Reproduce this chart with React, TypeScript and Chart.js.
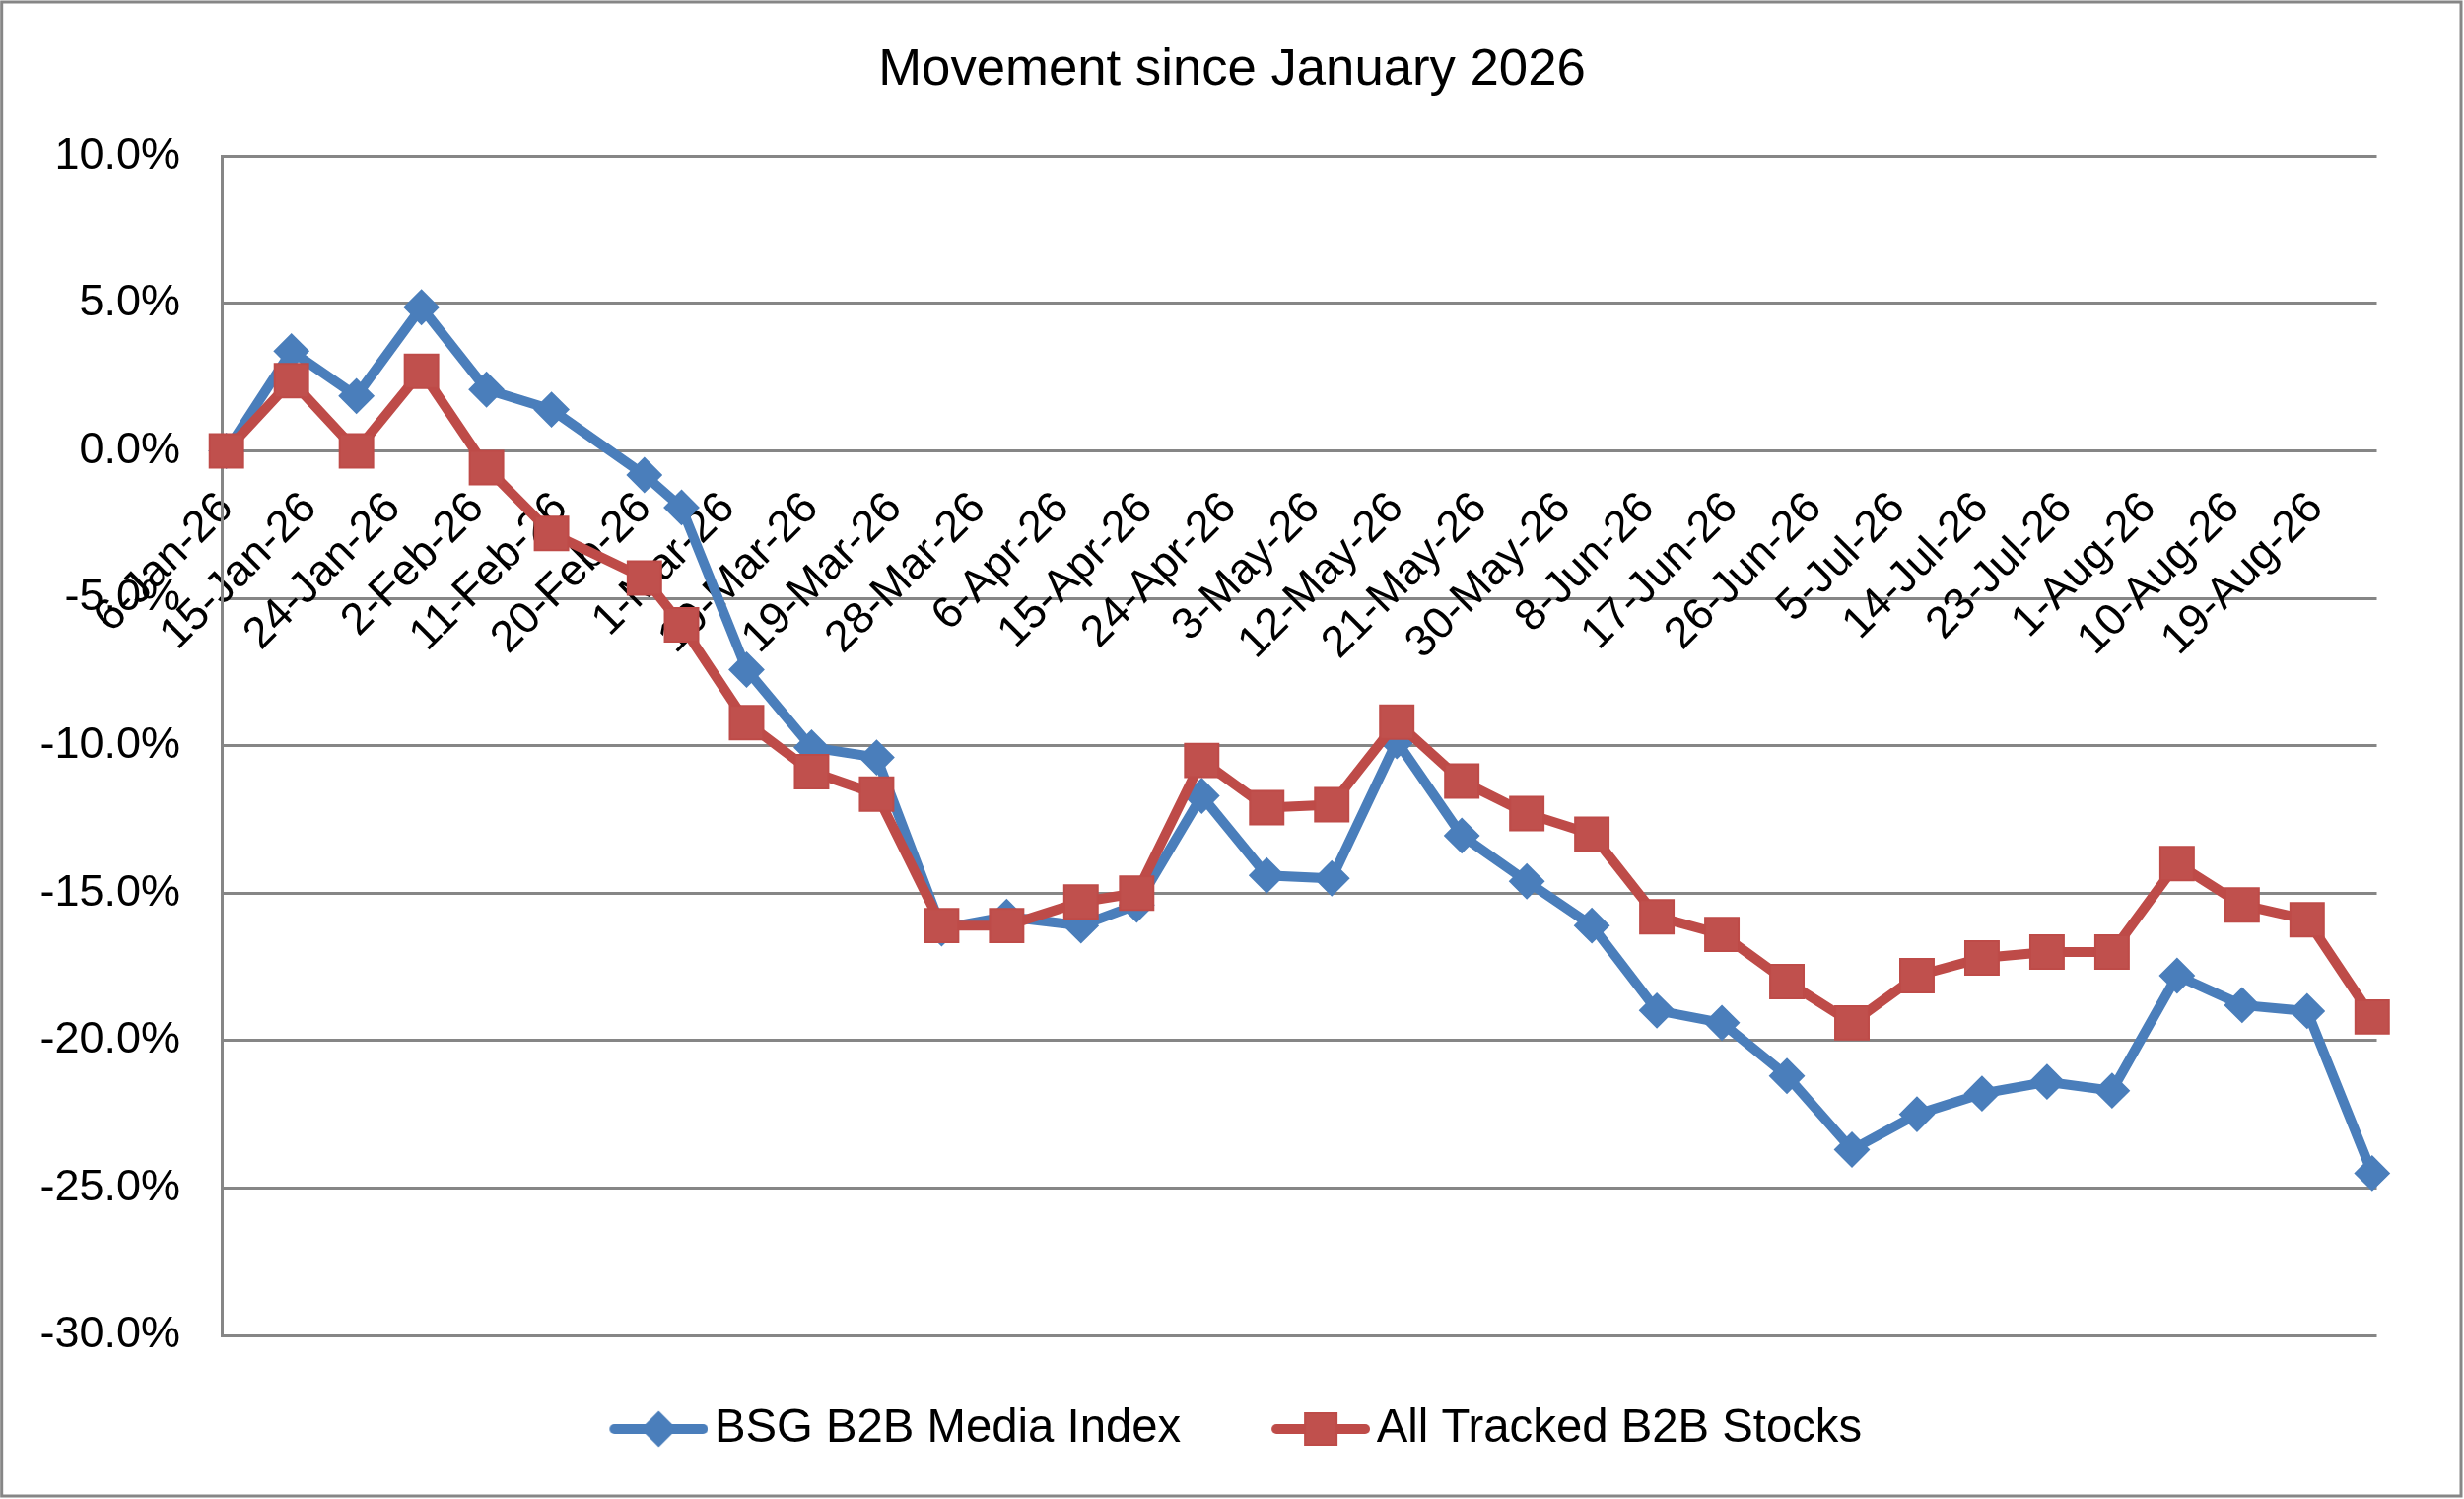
import React, { useEffect, useRef } from 'react';
import { Chart, registerables } from 'chart.js';

Chart.register(...registerables);

const chartTitle = 'Movement since January 2026';
const seriesNames = ['BSG B2B Media Index', 'All Tracked B2B Stocks'];

const pointDates = [
  '6-Jan-26', '13-Jan-26', '20-Jan-26', '27-Jan-26', '3-Feb-26', '10-Feb-26', '20-Feb-26', '24-Feb-26',
  '3-Mar-26', '10-Mar-26', '17-Mar-26', '24-Mar-26', '31-Mar-26', '8-Apr-26', '14-Apr-26', '21-Apr-26',
  '28-Apr-26', '5-May-26', '12-May-26', '19-May-26', '26-May-26', '2-Jun-26', '9-Jun-26', '16-Jun-26',
  '23-Jun-26', '30-Jun-26', '7-Jul-26', '14-Jul-26', '21-Jul-26', '28-Jul-26', '4-Aug-26', '11-Aug-26',
  '18-Aug-26', '25-Aug-26',
];

const bsgIndex = [
  0, 3.38, 1.86, 4.87, 2.08, 1.4, -0.82, -1.92,
  -7.42, -10.06, -10.4, -16.2, -15.8, -16.1, -15.4, -11.7,
  -14.4, -14.5, -9.85, -13.05, -14.6, -16.1, -18.98, -19.4,
  -21.2, -23.7, -22.5, -21.8, -21.4, -21.7, -17.8, -18.8,
  -19.0, -24.5,
];

const allTracked = [
  0, 2.38, 0, 2.7, -0.57, -2.8, -4.31, -5.9,
  -9.22, -10.88, -11.64, -16.1, -16.1, -15.3, -15.0, -10.5,
  -12.1, -12.0, -9.2, -11.2, -12.3, -13.0, -15.8, -16.4,
  -18.0, -19.4, -17.8, -17.2, -17.0, -17.0, -14.0, -15.4,
  -15.9, -19.2,
];

const xTickLabels = [
  '6-Jan-26', '15-Jan-26', '24-Jan-26', '2-Feb-26', '11-Feb-26', '20-Feb-26', '1-Mar-26', '10-Mar-26',
  '19-Mar-26', '28-Mar-26', '6-Apr-26', '15-Apr-26', '24-Apr-26', '3-May-26', '12-May-26', '21-May-26',
  '30-May-26', '8-Jun-26', '17-Jun-26', '26-Jun-26', '5-Jul-26', '14-Jul-26', '23-Jul-26', '1-Aug-26',
  '10-Aug-26', '19-Aug-26',
];

const axisStart = '6-Jan-26';
const axisEnd = '25-Aug-26';
const yMin = -30;
const yMax = 10;
const yStep = 5;

const MONTHS: Record<string, number> = {
  Jan: 0, Feb: 1, Mar: 2, Apr: 3, May: 4, Jun: 5, Jul: 6, Aug: 7, Sep: 8, Oct: 9, Nov: 10, Dec: 11,
};

function parseDay(s: string): number {
  const [d, m, y] = s.split('-');
  return Date.UTC(2000 + Number(y), MONTHS[m], Number(d)) / 86400000;
}

function dayOffset(s: string): number {
  return Math.round(parseDay(s) - parseDay(axisStart));
}

// colours / fonts
const BLUE = '#4A7EBB';
const RED = '#BE4B48';
const RED_FILL = '#C0504D';
const GRID = '#868686';
const FONT = "'Liberation Sans', Arial, Helvetica, sans-serif";

// layout (canvas pixels)
const W_CANVAS = 2500;
const H_CANVAS = 1521;
const PAD_LEFT = 30;
const PAD_RIGHT = 88.5;
const PLOT_LEFT = 225;
const PLOT_TOP = 158.3;
const PLOT_BOTTOM = 1355;
const TITLE_SIZE = 52.7;
const TITLE_CENTER = 71;
const TICK_SIZE = 45;
const LEG_SIZE = 47.3;
const LEG_CENTER = 1450;
const LEG_START = 618.5;
const LEG_LINE = 100;
const LEG_GAP = 6.5;
const LEG_ITEM_GAP = 92;

function makeLegendImage(width: number, lineColor: string, fill: string, kind: 'diamond' | 'square'): HTMLCanvasElement {
  const c = document.createElement('canvas');
  const w = Math.round(width);
  c.width = w;
  c.height = 40;
  const g = c.getContext('2d')!;
  g.strokeStyle = lineColor;
  g.lineWidth = 10;
  g.lineCap = 'round';
  g.beginPath();
  g.moveTo(w - LEG_LINE + 5, 20);
  g.lineTo(w - 5, 20);
  g.stroke();
  g.fillStyle = fill;
  g.lineWidth = 2;
  const cx = w - LEG_LINE / 2;
  const cy = 20;
  g.beginPath();
  if (kind === 'diamond') {
    const r = 17;
    g.moveTo(cx, cy - r);
    g.lineTo(cx + r, cy);
    g.lineTo(cx, cy + r);
    g.lineTo(cx - r, cy);
    g.closePath();
  } else {
    const h = 16;
    g.rect(cx - h, cy - h, 2 * h, 2 * h);
  }
  g.fill();
  g.stroke();
  return c;
}

// white background, centred chart title and the outer frame
const framePlugin = {
  id: 'frame',
  beforeDraw(chart: any) {
    const { ctx, width, height } = chart;
    ctx.save();
    ctx.fillStyle = '#ffffff';
    ctx.fillRect(0, 0, width, height);
    ctx.restore();
  },
  afterDraw(chart: any) {
    const { ctx, width } = chart;
    ctx.save();
    ctx.fillStyle = '#000000';
    ctx.font = `${TITLE_SIZE}px ${FONT}`;
    ctx.textAlign = 'center';
    ctx.textBaseline = 'middle';
    ctx.fillText(chartTitle, width / 2, TITLE_CENTER);
    ctx.strokeStyle = GRID;
    ctx.lineWidth = 3;
    ctx.strokeRect(1.7, 2, 2495.3, 1516);
    ctx.restore();
  },
};

export default function App() {
  const ref = useRef<HTMLCanvasElement | null>(null);

  useEffect(() => {
    document.body.style.margin = '0';
    if (!ref.current) return;
    Chart.defaults.font.family = FONT;
    Chart.defaults.color = '#000000';

    // legend geometry: line+marker image sits right before the text
    const meas = document.createElement('canvas').getContext('2d')!;
    meas.font = `${LEG_SIZE}px ${FONT}`;
    const totalText = seriesNames.reduce((s, n) => s + meas.measureText(n).width, 0);
    const hf = LEG_SIZE / 2;
    const legCenterX = (PAD_LEFT + (W_CANVAS - PAD_RIGHT)) / 2;
    const legPad = Math.max(2, 2 * (legCenterX - LEG_LINE - LEG_GAP - LEG_START) - totalText);
    const lead = LEG_ITEM_GAP - legPad;
    const boxW = lead + LEG_LINE + LEG_GAP - hf;
    const imgW = boxW + 2 * hf - 2 * LEG_GAP;
    const titleH = LEG_CENTER - PLOT_BOTTOM - legPad - hf;
    const legHeight = titleH + LEG_SIZE + legPad + 10;
    const padBottom = H_CANVAS - PLOT_BOTTOM - legHeight;

    const legendImages = [
      makeLegendImage(imgW, BLUE, BLUE, 'diamond'),
      makeLegendImage(imgW, RED, RED_FILL, 'square'),
    ];

    const xs = pointDates.map(dayOffset);
    const tickValues = xTickLabels.map(dayOffset);

    const chart = new Chart(ref.current, {
      type: 'line',
      data: {
        datasets: [
          {
            label: seriesNames[0],
            data: xs.map((x, i) => ({ x, y: bsgIndex[i] })),
            borderColor: BLUE,
            backgroundColor: BLUE,
            borderWidth: 10,
            pointStyle: 'rectRot',
            pointRadius: 17,
            pointHoverRadius: 17,
            pointBorderWidth: 2,
            pointBorderColor: BLUE,
            pointBackgroundColor: BLUE,
            tension: 0,
            clip: false as any,
            order: 2,
          },
          {
            label: seriesNames[1],
            data: xs.map((x, i) => ({ x, y: allTracked[i] })),
            borderColor: RED,
            backgroundColor: RED_FILL,
            borderWidth: 10,
            pointStyle: 'rect',
            pointRadius: 24,
            pointHoverRadius: 24,
            pointBorderWidth: 2,
            pointBorderColor: RED,
            pointBackgroundColor: RED_FILL,
            tension: 0,
            clip: false as any,
            order: 1,
          },
        ],
      },
      options: {
        responsive: false,
        animation: false,
        events: [],
        layout: { padding: { left: PAD_LEFT, right: PAD_RIGHT, top: PLOT_TOP, bottom: padBottom } },
        scales: {
          x: {
            type: 'linear',
            min: -0.5,
            max: dayOffset(axisEnd) + 0.5,
            position: { y: 0 } as any,
            grid: { display: false, drawTicks: false },
            border: { display: false },
            afterBuildTicks: (scale: any) => {
              scale.ticks = tickValues.map((v) => ({ value: v }));
            },
            ticks: {
              autoSkip: false,
              minRotation: 45,
              maxRotation: 45,
              padding: 32,
              color: '#000000',
              font: { size: TICK_SIZE, family: FONT },
              callback: (_v: any, i: number) => xTickLabels[i],
            },
          },
          y: {
            type: 'linear',
            min: yMin,
            max: yMax,
            afterFit: (scale: any) => {
              scale.width = PLOT_LEFT - PAD_LEFT;
            },
            grid: { color: GRID, lineWidth: 3, drawTicks: false },
            border: { display: true, color: GRID, width: 3 },
            ticks: {
              stepSize: yStep,
              padding: 42,
              color: '#000000',
              font: { size: TICK_SIZE, family: FONT },
              callback: (v: any) => Number(v).toFixed(1) + '%',
            },
          },
        },
        plugins: {
          title: { display: false },
          legend: {
            display: true,
            position: 'bottom',
            title: {
              display: true,
              text: ' ',
              color: 'rgba(0,0,0,0)',
              font: { size: 10, family: FONT },
              padding: { top: titleH - 12, bottom: 0 },
            },
            labels: {
              usePointStyle: true,
              pointStyleWidth: boxW,
              padding: legPad,
              color: '#000000',
              font: { size: LEG_SIZE, family: FONT },
              sort: (a: any, b: any) => a.datasetIndex - b.datasetIndex,
              generateLabels: (c: any) => {
                const items = (Chart.defaults.plugins.legend.labels as any).generateLabels(c);
                return items.map((it: any) => ({ ...it, pointStyle: legendImages[it.datasetIndex] }));
              },
            },
          },
          tooltip: { enabled: false },
        },
      },
      plugins: [framePlugin],
    });

    return () => {
      chart.destroy();
    };
  }, []);

  return (
    <div style={{ width: W_CANVAS, height: H_CANVAS }}>
      <canvas ref={ref} width={W_CANVAS} height={H_CANVAS} style={{ display: 'block', width: W_CANVAS, height: H_CANVAS }} />
    </div>
  );
}
